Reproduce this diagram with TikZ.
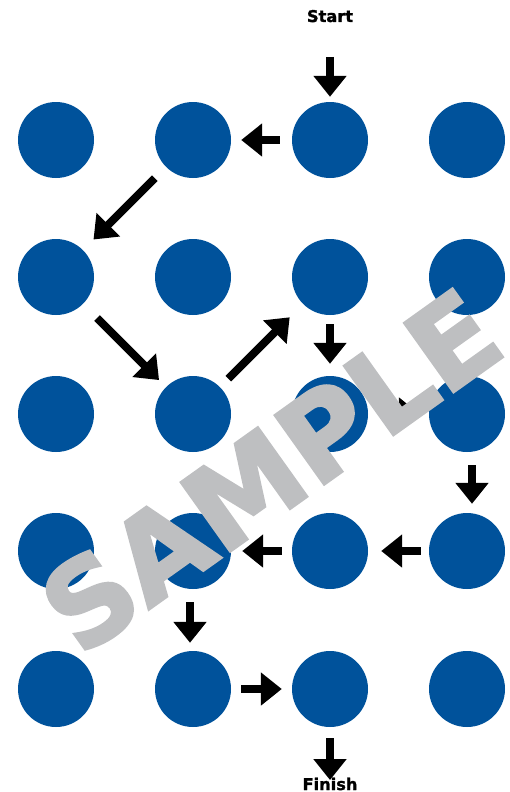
\documentclass[tikz,border=0pt]{standalone}
\usepackage{fontspec}
\setmainfont{DejaVu Sans}
\newfontfamily\wmfont{DejaVu Sans Bold}[FakeBold=2.5]
\newfontfamily\lblfont{DejaVu Sans Bold}[FakeBold=1.5]
\usetikzlibrary{arrows.meta}
\definecolor{dotblue}{RGB}{0,82,155}
\definecolor{wmgray}{RGB}{190,191,193}
\begin{document}
\begin{tikzpicture}[x=1pt,y=-1pt,
  dot/.style={circle,fill=dotblue,minimum size=76pt,inner sep=0pt},
  flow/.style={line width=8pt,-{Triangle[length=21pt,width=32pt]}},
  lbl/.style={font=\lblfont\fontsize{16.2}{18}\selectfont,inner sep=0pt,anchor=base},
  wmark/.style={font=\wmfont\fontsize{116}{120}\selectfont,text=wmgray,inner sep=0pt}]
\useasboundingbox (0,0) rectangle (509,792);
% grid of dots
\foreach \r/\yy in {1/140,2/277,3/414,4/551,5/689}{
  \foreach \c/\xx in {1/56,2/193,3/330,4/467}{
    \node[dot] (c\r\c) at (\xx,\yy) {};
  }
}
% labels
\node[lbl] (start) at (330,22) {Start};
\node[lbl] (finish) at (330,790) {Finish};
\coordinate (s0) at (330,57);
\coordinate (f1) at (330,780);
% path arrows
\draw[flow,shorten >=5pt] (s0) -- (c13.north);
\draw[flow,shorten <=12pt,shorten >=10pt] (c13.west) -- (c12.east);
\draw[flow,shorten <=54pt,shorten >=53pt] (c12.center) -- (c21.center);
\draw[flow,shorten <=58pt,shorten >=48pt] (c21.center) -- (c32.center);
\draw[flow,shorten <=50pt,shorten >=57pt] (c32.center) -- (c23.center);
\draw[flow,shorten <=9pt,shorten >=12pt] (c23.south) -- (c33.north);
\draw[flow,shorten <=12pt,shorten >=9pt] (c33.east) -- (c34.west);
\draw[flow,shorten <=13pt,shorten >=9pt] ([xshift=5pt]c34.south) -- ([xshift=5pt]c44.north);
\draw[flow,shorten <=8pt,shorten >=13pt] (c44.west) -- (c43.east);
\draw[flow,shorten <=10pt,shorten >=11pt] (c43.west) -- (c42.east);
\draw[flow,shorten <=13pt,shorten >=8pt] ([xshift=-3pt]c42.south) -- ([xshift=-3pt]c52.north);
\draw[flow,shorten <=10pt,shorten >=10pt] (c52.east) -- (c53.west);
\draw[flow,shorten <=11pt] (c53.south) -- (f1);
% watermark
\node[wmark,anchor=base,rotate=35.5] (wm) at (295,505) {SAMPLE};
\end{tikzpicture}
\end{document}
